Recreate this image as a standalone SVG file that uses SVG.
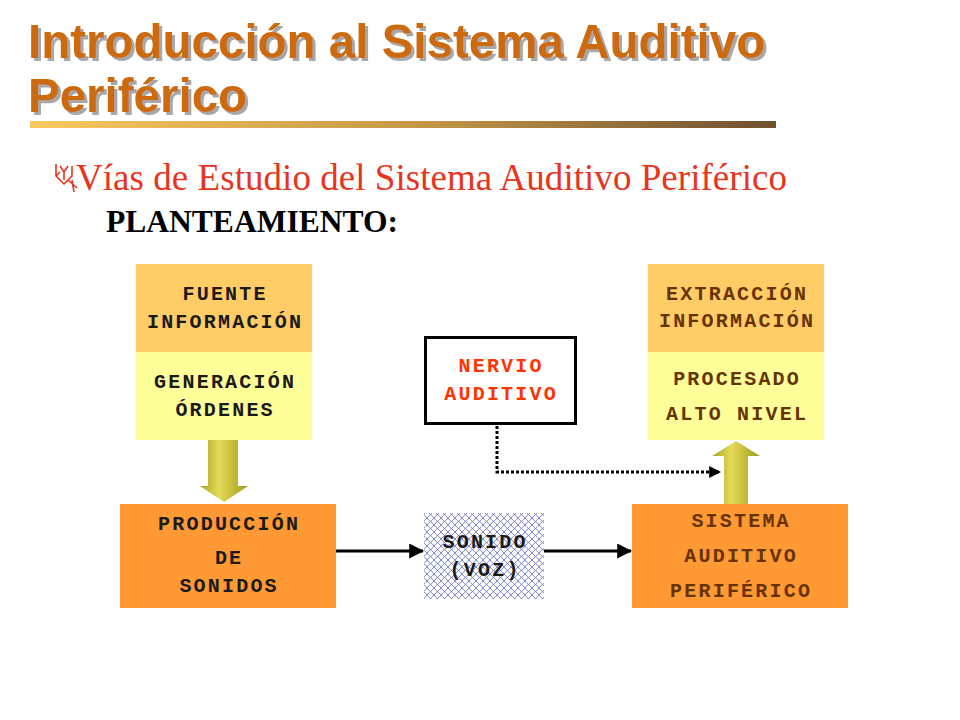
<svg xmlns="http://www.w3.org/2000/svg" width="960" height="720" viewBox="0 0 960 720">
<defs>
<style>
.t{font-family:"Liberation Sans",Arial,sans-serif;font-weight:bold;font-size:47.5px;fill:#cc6a10}
.m{font-family:"Liberation Mono","Courier New",monospace;font-weight:bold;font-size:20px;letter-spacing:2.2px;text-anchor:middle}
.k{fill:#1a1a1a}
.b{fill:#663300}
.r{fill:#ff3300}
.con{stroke:#000;stroke-width:3;fill:none}
</style>
<filter id="sh" x="-5%" y="-20%" width="110%" height="140%">
<feDropShadow dx="3" dy="3" stdDeviation="0.6" flood-color="#a8a8a8" flood-opacity="1"/>
</filter>
<linearGradient id="bar" x1="0" y1="0" x2="1" y2="0">
<stop offset="0" stop-color="#f8c860"/>
<stop offset="0.5" stop-color="#c89a48"/>
<stop offset="1" stop-color="#705030"/>
</linearGradient>
<linearGradient id="olive" x1="0" y1="0" x2="1" y2="0">
<stop offset="0" stop-color="#a8a020"/>
<stop offset="0.4" stop-color="#e4dc58"/>
<stop offset="1" stop-color="#a09818"/>
</linearGradient>
<pattern id="hatch" width="7" height="7" patternUnits="userSpaceOnUse">
<rect width="7" height="7" fill="#fff"/>
<path d="M0 0 Q2 2.5 3.5 3.5 Q5 4.5 7 7 M7 0 Q5 2.5 3.5 3.5 Q2 4.5 0 7" stroke="#5a6ac0" stroke-width="0.8" fill="none"/>
</pattern>
<marker id="ah" markerWidth="5" markerHeight="5" refX="4.6" refY="2.5" orient="auto" markerUnits="strokeWidth">
<path d="M0 0 L5 2.5 L0 5 Z" fill="#000"/>
</marker>
<marker id="ahs" markerWidth="4" markerHeight="4" refX="3.6" refY="2" orient="auto" markerUnits="strokeWidth">
<path d="M0 0 L4 2 L0 4 Z" fill="#000"/>
</marker>
</defs>
<rect width="960" height="720" fill="#fff"/>

<g id="title" filter="url(#sh)">
<text class="t" x="28" y="58">Introducción al Sistema Auditivo</text>
<text class="t" x="28" y="112">Periférico</text>
</g>
<rect x="30" y="121" width="746" height="7" fill="url(#bar)"/>

<g id="subtitle">
<path d="M56 164 L56 176 L64 184 L72 176 L72 166 M60 166 L64 172 L68 166 M64 172 L64 180 M68 180 L77 188 M72 180 L74 192 M60 172 L56 176" stroke="#e8341c" stroke-width="1.6" fill="none" stroke-linejoin="round"/>
<text x="76" y="190" font-family="'Liberation Serif','Times New Roman',serif" font-size="37" fill="#e8341c" textLength="711">Vías de Estudio del Sistema Auditivo Periférico</text>
<text x="106" y="232" font-family="'Liberation Serif','Times New Roman',serif" font-weight="bold" font-size="31" fill="#000" textLength="292" lengthAdjust="spacingAndGlyphs">PLANTEAMIENTO:</text>
</g>

<g id="connectors">
<path d="M208 440 H238 V486 H248 L224 502 L200 486 H208 Z" fill="url(#olive)"/>
<path d="M724 504 V456 H712 L736 441 L760 456 H748 V504 Z" fill="url(#olive)"/>
<line class="con" x1="336" y1="551" x2="423" y2="551" marker-end="url(#ah)"/>
<line class="con" x1="544" y1="551" x2="631" y2="551" marker-end="url(#ah)"/>
<path d="M497 426 V472 H720" stroke="#000" stroke-width="3" fill="none" stroke-dasharray="3 2" marker-end="url(#ahs)"/>
</g>

<g id="fuente">
<rect x="136" y="264" width="176" height="88" fill="#ffcc66"/>
<rect x="136" y="352" width="176" height="88" fill="#ffff99"/>
<text class="m k" x="225.1" y="300">FUENTE</text>
<text class="m k" x="225.1" y="328">INFORMACIÓN</text>
<text class="m k" x="225.1" y="388">GENERACIÓN</text>
<text class="m k" x="225.1" y="416">ÓRDENES</text>
</g>

<g id="produccion">
<rect x="120" y="504" width="216" height="104" fill="#ff9933"/>
<text class="m k" x="229.1" y="530">PRODUCCIÓN</text>
<text class="m k" x="229.1" y="564">DE</text>
<text class="m k" x="229.1" y="592">SONIDOS</text>
</g>

<g id="sonido">
<rect x="424" y="513" width="120" height="86" fill="url(#hatch)"/>
<text class="m k" x="485.1" y="548">SONIDO</text>
<text class="m k" x="485.1" y="576">(VOZ)</text>
</g>

<g id="nervio">
<rect x="425.5" y="337.5" width="150" height="86" fill="#fff" stroke="#000" stroke-width="3"/>
<text class="m r" x="501.1" y="372">NERVIO</text>
<text class="m r" x="501.1" y="400">AUDITIVO</text>
</g>

<g id="sistema">
<rect x="632" y="504" width="216" height="104" fill="#ff9933"/>
<text class="m b" x="741.1" y="527">SISTEMA</text>
<text class="m b" x="741.1" y="562">AUDITIVO</text>
<text class="m b" x="741.1" y="597">PERIFÉRICO</text>
</g>

<g id="extraccion">
<rect x="648" y="264" width="176" height="88" fill="#ffcc66"/>
<rect x="648" y="352" width="176" height="88" fill="#ffff99"/>
<text class="m b" x="737.1" y="300">EXTRACCIÓN</text>
<text class="m b" x="737.1" y="327">INFORMACIÓN</text>
<text class="m b" x="737.1" y="385">PROCESADO</text>
<text class="m b" x="737.1" y="420">ALTO NIVEL</text>
</g>
</svg>
